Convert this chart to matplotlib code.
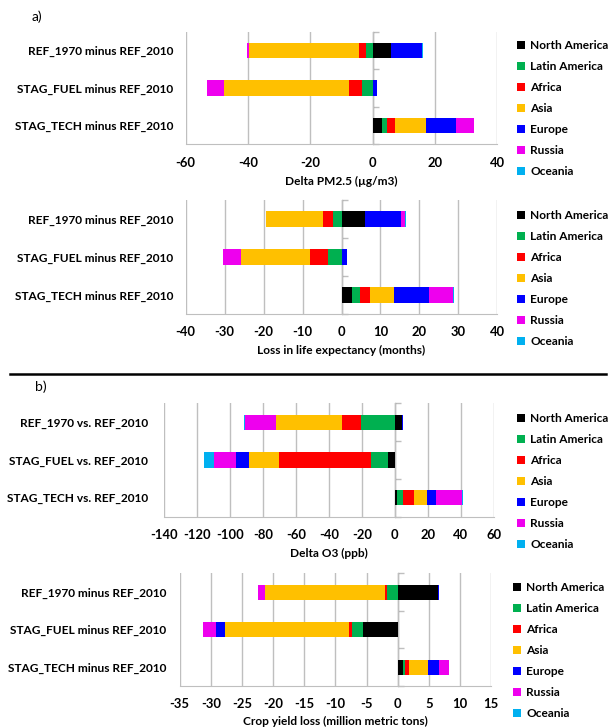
import numpy as np
import matplotlib
matplotlib.use('Agg')
import matplotlib.pyplot as plt
from matplotlib.lines import Line2D

plt.rcParams['font.family'] = ['Lato', 'DejaVu Sans']

# regions and colours
regions = ['North America', 'Latin America', 'Africa', 'Asia', 'Europe', 'Russia', 'Oceania']
colors = ['#000000', '#00B050', '#FF0000', '#FFC000', '#0000FF', '#EE00EE', '#00B0F0']

# scenario labels
cats_minus = ['REF_1970 minus REF_2010', 'STAG_FUEL minus REF_2010', 'STAG_TECH minus REF_2010']
cats_vs = ['REF_1970 vs. REF_2010', 'STAG_FUEL vs. REF_2010', 'STAG_TECH vs. REF_2010']

# values per scenario, one column per region (NA, LatAm, Africa, Asia, Europe, Russia, Oceania)
pm25_ref1970 = [6.0, -2.0, -2.4, -35.4, 9.9, -0.5, 0.1]
pm25_fuel = [0.0, -3.3, -4.4, -40.0, 1.3, -5.6, 0.0]
pm25_tech = [2.9, 1.8, 2.6, 9.9, 9.6, 5.7, 0.1]

life_ref1970 = [6.0, -2.2, -2.5, -14.7, 9.2, 1.2, 0.1]
life_fuel = [0.0, -3.4, -4.7, -17.7, 1.3, -4.7, 0.0]
life_tech = [2.8, 2.0, 2.5, 6.2, 9.0, 6.2, 0.1]

o3_ref1970 = [4.0, -20.6, -11.7, -39.4, 1.0, -19.2, -0.6]
o3_fuel = [-4.4, -10.3, -55.4, -18.2, -8.1, -13.1, -6.3]
o3_tech = [1.0, 3.8, 6.7, 8.1, 5.5, 15.8, 0.4]

crop_ref1970 = [6.4, -1.8, -0.3, -19.2, 0.3, -1.1, 0.0]
crop_fuel = [-5.5, -1.8, -0.6, -19.9, -1.4, -2.0, 0.0]
crop_tech = [0.86, 0.37, 0.5, 3.05, 1.9, 1.55, 0.0]

W, H = 611, 728
fig = plt.figure(figsize=(W / 100, H / 100), dpi=100)

FS = 8.6
grid_c = '#BFBFBF'


def panel(rect, cats, rows, xlim, xticks, xlabel, leg_xy, label_pad, xlabelpad=5):
    x0, y0, x1, y1 = rect
    ax = fig.add_axes([x0 / W, 1 - y1 / H, (x1 - x0) / W, (y1 - y0) / H])
    data = np.array(rows)
    pos_left = np.zeros(len(cats))
    neg_left = np.zeros(len(cats))
    ypos = np.arange(len(cats))[::-1]
    handles = []
    for j, reg in enumerate(regions):
        v = data[:, j]
        left = np.where(v >= 0, pos_left, neg_left + v)
        b = ax.barh(ypos, np.abs(v), left=left, height=0.4, color=colors[j],
                    label=reg, zorder=3)
        handles.append(b)
        pos_left = pos_left + np.where(v >= 0, v, 0)
        neg_left = neg_left + np.where(v < 0, v, 0)
    ax.set_xlim(*xlim)
    ax.set_ylim(-0.5, 2.5)
    ax.set_xticks(xticks)
    ax.set_xticklabels([str(t) for t in xticks], fontweight='bold', fontsize=FS + 0.8)
    ax.set_yticks(ypos)
    ax.set_yticklabels(cats, fontweight='bold', fontsize=FS)
    ax.tick_params(axis='y', length=0, pad=label_pad)
    ax.tick_params(axis='x', length=0, pad=9)
    ax.grid(axis='x', color=grid_c, linewidth=1.0, zorder=0)
    for s in ['top', 'right', 'left']:
        ax.spines[s].set_visible(False)
    ax.spines['bottom'].set_color(grid_c)
    ax.set_xlabel(xlabel, fontweight='bold', fontsize=FS, labelpad=xlabelpad)
    # vertical category axis at zero
    frac = (0 - xlim[0]) / (xlim[1] - xlim[0])
    sec = ax.secondary_yaxis(frac)
    sec.set_yticks([-0.5, 0.5, 1.5, 2.5])
    sec.set_yticklabels([])
    sec.tick_params(length=4, color=grid_c, width=1.0)
    sec.spines['left'].set_color(grid_c)
    lx, ly = leg_xy
    ax.legend(handles=handles, loc='upper left', bbox_to_anchor=(lx / W, 1 - ly / H),
              bbox_transform=fig.transFigure, frameon=False,
              prop={'weight': 'bold', 'size': FS}, handlelength=0.7, handleheight=0.7,
              handletextpad=0.4, labelspacing=0.84, borderpad=0, borderaxespad=0)
    return ax


panel((185.7, 31.7, 497.3, 144.3), cats_minus, [pm25_ref1970, pm25_fuel, pm25_tech],
      (-60, 40), [-60, -40, -20, 0, 20, 40], 'Delta PM2.5 (µg/m3)', (517, 40), 9)
panel((185.7, 200, 497.3, 314), cats_minus, [life_ref1970, life_fuel, life_tech],
      (-40, 40), [-40, -30, -20, -10, 0, 10, 20, 30, 40], 'Loss in life expectancy (months)',
      (517, 210), 9)
panel((163.7, 403.3, 494, 516.7), cats_vs, [o3_ref1970, o3_fuel, o3_tech],
      (-140, 60), [-140, -120, -100, -80, -60, -40, -20, 0, 20, 40, 60], 'Delta O3 (ppb)',
      (517, 413), 11.5)
panel((179.7, 573.3, 491.2, 686), cats_minus, [crop_ref1970, crop_fuel, crop_tech],
      (-35, 15), [-35, -30, -25, -20, -15, -10, -5, 0, 5, 10, 15],
      'Crop yield loss (million metric tons)', (513, 582), 9.5, xlabelpad=4)

fig.text(37 / W, 1 - 17 / H, 'a)', fontsize=10, ha='center', va='center')
fig.text(41 / W, 1 - 387 / H, 'b)', fontsize=10, ha='center', va='center')
fig.add_artist(Line2D([10 / W, 606 / W], [1 - 374.3 / H, 1 - 374.3 / H], color='black',
                      linewidth=1.8, transform=fig.transFigure))

fig.savefig('out.png', dpi=100)
